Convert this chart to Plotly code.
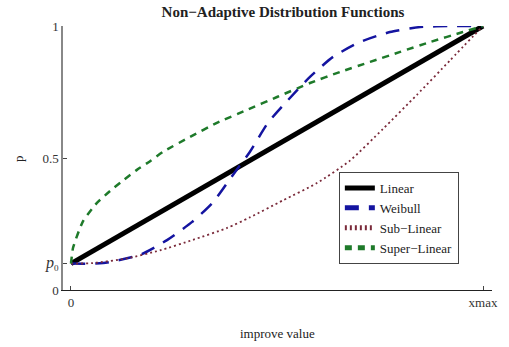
import plotly.graph_objects as go

# Values of the four distribution functions on a normalised improve-value axis
# (0 .. xmax mapped to 0 .. 1), starting from the base probability p0.
P0 = 0.1

linear_x = [0.0, 1.0]
linear_y = [0.1, 1.0]

weibull_x = [0.0, 0.078, 0.167, 0.233, 0.294, 0.345, 0.393, 0.434, 0.478, 0.527,
             0.580, 0.636, 0.701, 0.774, 0.847, 0.925, 1.0]
weibull_y = [0.1, 0.102, 0.133, 0.189, 0.258, 0.333, 0.436, 0.523, 0.633, 0.720,
             0.807, 0.883, 0.939, 0.977, 0.996, 1.0, 1.0]

sub_x = [0.0, 0.053, 0.136, 0.216, 0.296, 0.379, 0.434, 0.515, 0.597, 0.677,
         0.757, 0.840, 0.920, 1.0]
sub_y = [0.1, 0.102, 0.12, 0.15, 0.19, 0.235, 0.275, 0.34, 0.405, 0.49,
         0.61, 0.74, 0.87, 1.0]

super_x = [0.0, 0.005, 0.029, 0.063, 0.095, 0.124, 0.160, 0.192, 0.223, 0.289,
           0.354, 0.427, 0.5, 0.58, 0.653, 0.726, 0.799, 0.871, 0.951, 1.0]
super_y = [0.1, 0.16, 0.26, 0.33, 0.375, 0.412, 0.455, 0.488, 0.523, 0.580,
           0.633, 0.682, 0.731, 0.784, 0.826, 0.864, 0.902, 0.939, 0.977, 1.0]

x_tickvals = [0.0, 1.0]
x_ticktext = ["0", "xmax"]
y_tickvals = [0.0, P0, 0.5, 1.0]
y_ticktext = ["0", "<span style='font-size:16px'><i>p</i></span><sub>0</sub>", "0.5", "1"]

SERIF = "Liberation Serif, Times New Roman, serif"

fig = go.Figure()
fig.add_trace(go.Scatter(x=linear_x, y=linear_y, mode="lines", name="Linear",
                         line=dict(color="black", width=5)))
fig.add_trace(go.Scatter(x=weibull_x, y=weibull_y, mode="lines", name="Weibull",
                         line=dict(color="#1414a0", width=2.5, dash="14px,10px",
                                   shape="spline", smoothing=0.6)))
fig.add_trace(go.Scatter(x=sub_x, y=sub_y, mode="lines", name="Sub\u2212Linear",
                         line=dict(color="#7a2a3a", width=1.8, dash="2px,3px",
                                   shape="spline", smoothing=0.6)))
fig.add_trace(go.Scatter(x=super_x, y=super_y, mode="lines", name="Super\u2212Linear",
                         line=dict(color="#1e7a2a", width=2.5, dash="7px,6px",
                                   shape="spline", smoothing=0.5)))

fig.update_layout(
    width=509, height=347,
    margin=dict(l=63, r=17, t=26, b=57),
    paper_bgcolor="white", plot_bgcolor="white",
    font=dict(family=SERIF, size=12, color="#222"),
    title=dict(text="<b>Non\u2212Adaptive Distribution Functions</b>",
               x=0.556, xanchor="center", y=0.965, yanchor="middle",
               font=dict(family=SERIF, size=15, color="#222")),
    showlegend=True,
    legend=dict(x=0.643, y=0.447, xanchor="left", yanchor="top",
                bgcolor="white", bordercolor="#444", borderwidth=1,
                font=dict(family=SERIF, size=13, color="#222"),
                tracegroupgap=0, itemsizing="constant"),
    xaxis=dict(range=[-0.0194, 1.0218], showgrid=False, zeroline=False,
               showline=True, linecolor="#222", linewidth=1,
               tickmode="array", tickvals=x_tickvals, ticktext=x_ticktext,
               ticks="inside", ticklen=4, tickcolor="#444",
               tickfont=dict(family=SERIF, size=13, color="#333")),
    yaxis=dict(range=[0, 1.0], showgrid=False, zeroline=False,
               showline=True, linecolor="#888", linewidth=1.5,
               tickmode="array", tickvals=y_tickvals, ticktext=y_ticktext,
               ticks="inside", ticklen=4, tickcolor="#444",
               tickfont=dict(family=SERIF, size=13, color="#333")),
    annotations=[
        dict(text="improve value", xref="paper", yref="paper", x=0.5, y=-0.13,
             xanchor="center", yanchor="top", showarrow=False,
             font=dict(family=SERIF, size=13, color="#222")),
        dict(text="p", xref="paper", yref="paper", x=-0.105, y=0.5,
             xanchor="center", yanchor="middle", showarrow=False, textangle=-90,
             font=dict(family=SERIF, size=13, color="#222")),
    ],
)

fig.write_html("out.html")
